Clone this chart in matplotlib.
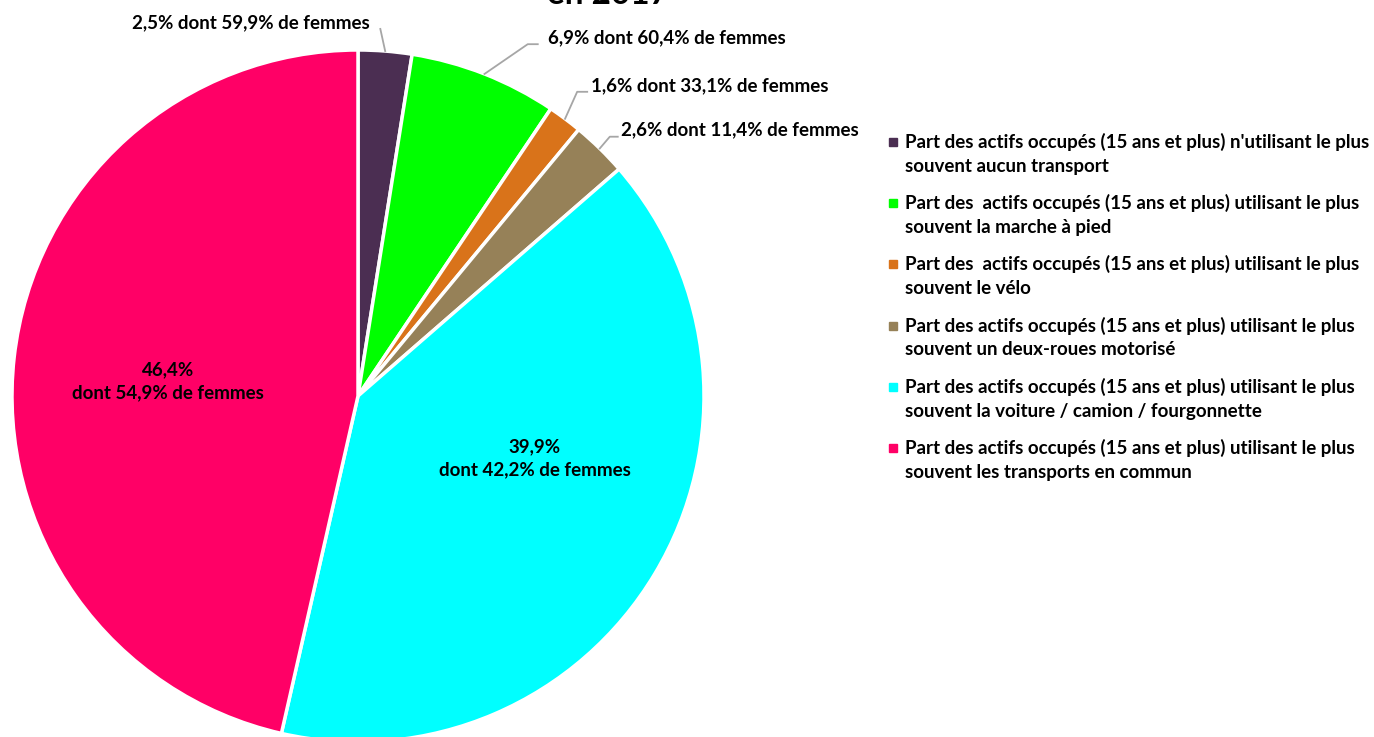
import matplotlib.pyplot as plt
import numpy as np

plt.rcParams['font.family'] = ['Lato', 'DejaVu Sans']

# data
shares = [2.5, 6.9, 1.6, 2.6, 39.9, 46.4]
women = [59.9, 60.4, 33.1, 11.4, 42.2, 54.9]
colors = ['#4B2E52', '#00FF00', '#D9731A', '#968158', '#00FFFF', '#FF0066']
legend_labels = [
    "Part des actifs occupés (15 ans et plus) n'utilisant le plus\nsouvent aucun transport",
    "Part des  actifs occupés (15 ans et plus) utilisant le plus\nsouvent la marche à pied",
    "Part des  actifs occupés (15 ans et plus) utilisant le plus\nsouvent le vélo",
    "Part des actifs occupés (15 ans et plus) utilisant le plus\nsouvent un deux-roues motorisé",
    "Part des actifs occupés (15 ans et plus) utilisant le plus\nsouvent la voiture / camion / fourgonnette",
    "Part des actifs occupés (15 ans et plus) utilisant le plus\nsouvent les transports en commun",
]

W, H = 1374, 737
FS = 13.5
fig = plt.figure(figsize=(W / 100, H / 100), dpi=100)
cx, cy, r = 358, 396, 346
ax = fig.add_axes([(cx - r) / W, (H - cy - r) / H, 2 * r / W, 2 * r / H])

wedges, _ = ax.pie(shares, colors=colors, startangle=90, counterclock=False,
                   wedgeprops=dict(edgecolor='white', linewidth=2.5))
ax.set_xlim(-1, 1)
ax.set_ylim(-1, 1)
ax.set_aspect('equal')
ax.set_axis_off()

def lbl(v, w):
    return f"{v:.1f}% dont {w:.1f}% de femmes".replace('.', ',')

# leader lines: (diagonal dx, dy, horizontal length, gap to text), in radius units
outside = {
    0: (-0.014, 0.064, 0.0, -0.03),
    1: (0.125, 0.086, 0.029, 0.03),
    2: (0.035, 0.078, 0.029, 0.01),
    3: (0.029, 0.034, 0.023, 0.009),
}
for i, w in enumerate(wedges):
    if i not in outside:
        continue
    ang = np.deg2rad((w.theta1 + w.theta2) / 2)
    x0, y0 = np.cos(ang), np.sin(ang)
    dx, dy, hl, gap = outside[i]
    xs = [x0, x0 + dx, x0 + dx + hl]
    ys = [y0, y0 + dy, y0 + dy]
    ax.plot(xs, ys, color='#A6A6A6', lw=1.3, clip_on=False)
    ha = 'left' if gap > 0 else 'right'
    ax.text(xs[-1] + gap, ys[-1] + 0.003, lbl(shares[i], women[i]),
            ha=ha, va='baseline', fontsize=FS, fontweight='bold', clip_on=False)

inside_pos = {4: (0.51, -0.181), 5: (-0.548, 0.042)}
for i, (x, y) in inside_pos.items():
    txt = f"{shares[i]:.1f}%\ndont {women[i]:.1f}% de femmes".replace('.', ',')
    ax.text(x, y, txt, ha='center', va='center', fontsize=FS,
            fontweight='bold', linespacing=1.44)

# legend drawn by hand so the marker sits on the first line
for k, (lab, col) in enumerate(zip(legend_labels, colors)):
    ymid = 142 + k * 61.2
    fig.patches.append(plt.Rectangle((889 / W, 1 - (ymid + 4) / H), 8 / W, 8 / H,
                                     transform=fig.transFigure, color=col))
    fig.text(905 / W, 1 - (ymid - 9) / H, lab, ha='left', va='top',
             fontsize=FS, fontweight='bold', linespacing=1.48)

fig.text(547 / W, 1 - 4 / H, "en 2017", ha='left', va='baseline',
         fontsize=24, fontweight='bold')

fig.savefig('out.png', dpi=100)
